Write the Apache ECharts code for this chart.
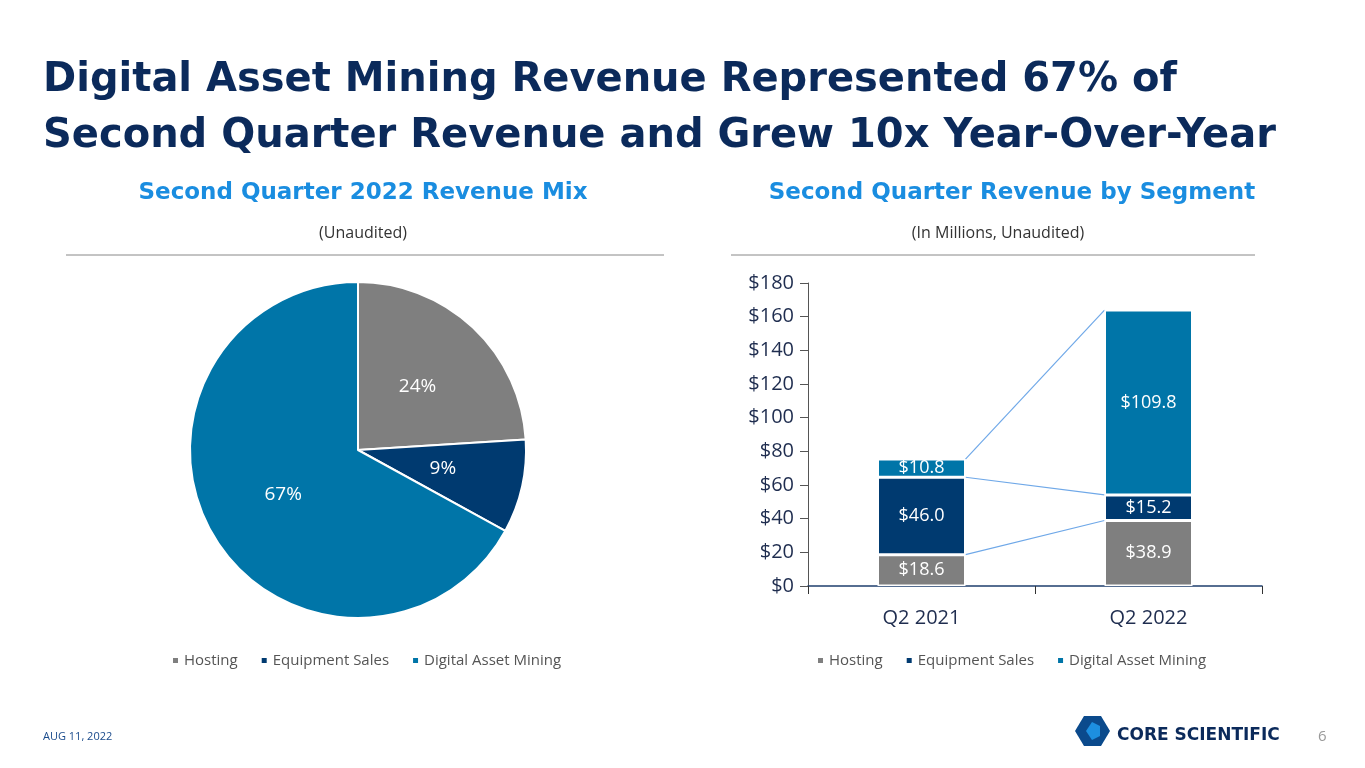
<!DOCTYPE html>
<html><head><meta charset="utf-8">
<script src="https://cdn.jsdelivr.net/npm/echarts@6/dist/echarts.min.js"></script>
<style>html,body{margin:0;padding:0;background:#fff}#c{width:1365px;height:768px}</style>
</head><body><div id="c"></div>
<script>
const segments = ['Hosting','Equipment Sales','Digital Asset Mining'];
const colors = ['#7f7f7f','#003a70','#0075a8'];
const pieValues = [24, 9, 67];
const quarters = ['Q2 2021','Q2 2022'];
const hosting = [18.6, 38.9];
const equipment = [46.0, 15.2];
const mining = [10.8, 109.8];

const chart = echarts.init(document.getElementById('c'));
const font = '"Open Sans", sans-serif';
const barW = 88;
const lbl = {show:true, position:'inside', color:'#fff', fontSize:18, fontFamily:font, formatter:p=>'$'+p.value.toFixed(1)};
const legendBase = {data:segments, top:648, itemWidth:7, itemHeight:7, itemGap:22, icon:'rect',
     textStyle:{fontSize:15,color:'#555',fontFamily:font}};
const option = {
  animation:false,
  textStyle:{fontFamily:font},
  title:[
    {text:'Digital Asset Mining Revenue Represented 67% of\nSecond Quarter Revenue and Grew 10x Year-Over-Year', left:38, top:48,
     textStyle:{fontFamily:'DejaVu Sans', fontWeight:'bold', fontSize:40, lineHeight:56, color:'#0b2a5b'}},
    {text:'Second Quarter 2022 Revenue Mix', left:358, top:177, textAlign:'center', textStyle:{fontFamily:'DejaVu Sans',fontWeight:'bold',fontSize:23,color:'#1a8de0'}},
    {text:'(Unaudited)', left:358, top:220, textAlign:'center', textStyle:{fontFamily:font,fontWeight:'normal',fontSize:16,color:'#333'}},
    {text:'Second Quarter Revenue by Segment', left:1007, top:177, textAlign:'center', textStyle:{fontFamily:'DejaVu Sans',fontWeight:'bold',fontSize:23,color:'#1a8de0'}},
    {text:'(In Millions, Unaudited)', left:993, top:220, textAlign:'center', textStyle:{fontFamily:font,fontWeight:'normal',fontSize:16,color:'#333'}},
    {text:'AUG 11, 2022', left:38, top:726, textStyle:{fontFamily:font,fontWeight:'normal',fontSize:11,color:'#1a4b8c'}},
    {text:'6', left:1313, top:724, textStyle:{fontFamily:font,fontWeight:'normal',fontSize:15,color:'#999'}},
    {text:'CORE SCIENTIFIC', left:1112, top:722, textStyle:{fontFamily:'DejaVu Sans',fontWeight:'bold',fontSize:17,color:'#0b2a5b'}}
  ],
  legend:[
    Object.assign({left:166}, legendBase),
    Object.assign({left:811}, legendBase)
  ],
  grid:{left:808, right:103, top:283, bottom:182, containLabel:false},
  xAxis:{type:'category', data:quarters, axisLine:{lineStyle:{color:'#1f3f6e',width:1.5}}, axisTick:{show:true,length:8,lineStyle:{color:'#333'}},
    axisLabel:{fontSize:20,color:'#1f2d4f',margin:22,fontFamily:font}},
  yAxis:{type:'value', min:0, max:180, interval:20, axisLine:{show:true,lineStyle:{color:'#555'}}, axisTick:{show:true,length:8,lineStyle:{color:'#555'}},
    splitLine:{show:false}, axisLabel:{fontSize:20,color:'#1f2d4f',margin:14,fontFamily:font,formatter:v=>'$'+v}},
  series:[
    {type:'pie', center:[358,450], radius:[0,168], startAngle:90, clockwise:true,
     data:segments.map((s,i)=>({name:s,value:pieValues[i],itemStyle:{color:colors[i]}})),
     itemStyle:{borderColor:'#fff',borderWidth:2},
     label:{show:true,position:'inner',formatter:p=>p.value+'%',fontSize:19,color:'#fff',fontFamily:font},
     labelLine:{show:false}},
    {type:'bar', name:segments[0], stack:'s', data:hosting, barWidth:barW, itemStyle:{color:colors[0],borderColor:'#fff',borderWidth:1.5}, label:lbl},
    {type:'bar', name:segments[1], stack:'s', data:equipment, barWidth:barW, itemStyle:{color:colors[1],borderColor:'#fff',borderWidth:1.5}, label:lbl},
    {type:'bar', name:segments[2], stack:'s', data:mining, barWidth:barW, itemStyle:{color:colors[2],borderColor:'#fff',borderWidth:1.5}, label:lbl}
  ]
};
chart.setOption(option);
const g = [
  {type:'line', shape:{x1:66,y1:255,x2:664,y2:255}, style:{stroke:'#888',lineWidth:1}},
  {type:'line', shape:{x1:731,y1:255,x2:1255,y2:255}, style:{stroke:'#888',lineWidth:1}}
];
let c0=0,c1=0;
[hosting,equipment,mining].forEach((arr)=>{
  c0+=arr[0]; c1+=arr[1];
  const p0 = chart.convertToPixel({gridIndex:0},[0,c0]);
  const p1 = chart.convertToPixel({gridIndex:0},[1,c1]);
  g.push({type:'line', shape:{x1:p0[0]+barW/2, y1:p0[1], x2:p1[0]-barW/2, y2:p1[1]}, style:{stroke:'#6fa8e8',lineWidth:1.2}});
});
g.push({type:'polygon', shape:{points:[[1075,731],[1084,716],[1101,716],[1110,731],[1101,746],[1084,746]]}, style:{fill:'#0b4a8c'}});
g.push({type:'polygon', shape:{points:[[1086,731],[1092,722],[1100,726],[1100,736],[1092,740]]}, style:{fill:'#1d8fe0'}});
chart.setOption({graphic:g});
</script></body></html>
